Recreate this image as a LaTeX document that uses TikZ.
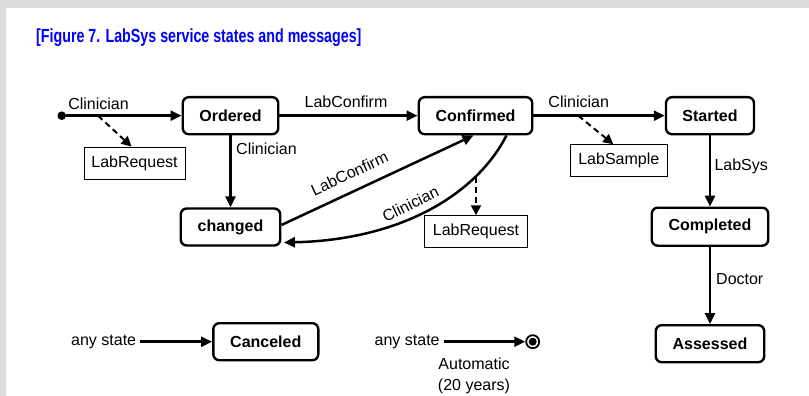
\documentclass[tikz,border=0pt]{standalone}
\usepackage{fontspec}
\setmainfont{Liberation Sans}
\usetikzlibrary{arrows.meta}
\definecolor{bggray}{HTML}{DCDCDC}
\definecolor{titleblue}{HTML}{0000FF}
\begin{document}
\begin{tikzpicture}[x=1pt,y=-1pt,
  state/.style={draw, line width=2.4pt, rounded corners=6pt, font=\fontsize{16}{19}\selectfont\bfseries, inner sep=0pt, minimum height=37pt},
  msg/.style={draw, line width=0.9pt, font=\fontsize{16}{19}\selectfont, inner sep=0pt, minimum height=32pt},
  lbl/.style={font=\fontsize{16}{19}\selectfont, inner sep=0pt},
  tr/.style={line width=2.5pt, -{Triangle[length=11pt,width=10pt]}},
  dsh/.style={line width=2pt, dash pattern=on 6pt off 4pt, -{Triangle[length=10pt,width=10pt]}}
]
\useasboundingbox (0,0) rectangle (809,396);
\fill[bggray] (0,0) rectangle (809,396);
\fill[white] (5.5,8.5) rectangle (809,396);

\node[anchor=base west, text=titleblue, font=\fontsize{19}{22}\selectfont\bfseries, inner sep=0pt] (title) at (36,42.5)
  {\scalebox{0.75}[1]{[Figure 7. LabSys service states and messages]}};

% states
\node[state, minimum width=95.5pt] (ordered) at (230.5,115.7) {Ordered};
\node[state, minimum width=113.5pt] (confirmed) at (475.5,115.7) {Confirmed};
\node[state, minimum width=88pt] (started) at (710,115.7) {Started};
\node[state, minimum width=116.5pt, minimum height=38pt] (completed) at (710,226.7) {Completed};
\node[state, minimum width=99.5pt] (changed) at (230.5,227) {changed};
\node[state, minimum width=108.5pt] (assessed) at (710,343.7) {Assessed};
\node[state, minimum width=105pt] (canceled) at (265.8,341.7) {Canceled};

% message boxes
\node[msg, minimum width=101pt] (req1) at (134.5,163) {LabRequest};
\node[msg, minimum width=96.5pt] (sample) at (618.8,160.7) {LabSample};
\node[msg, minimum width=102.5pt] (req2) at (476,231.7) {LabRequest};

% initial state
\node[circle, fill, inner sep=0pt, minimum size=8.6pt] (init) at (61.7,115.7) {};
\draw[tr] (init) -- (ordered);
\node[lbl] (lclin1) at (98.5,103.5) {Clinician};
\coordinate (d1) at (98,115.7);
\draw[dsh] (d1) -- ([xshift=-3pt]req1.north);

% Ordered -> Confirmed
\draw[tr] (ordered) -- (confirmed);
\node[lbl] (llc1) at (346,102) {LabConfirm};

% Confirmed -> Started
\draw[tr] (confirmed) -- (started);
\node[lbl] (lclin2) at (578.7,102) {Clinician};
\coordinate (d2) at (578.3,115.7);
\draw[dsh] (d2) -- ([xshift=-5.5pt]sample.north);

% Ordered -> changed
\draw[tr] (ordered) -- (changed);
\node[lbl, anchor=west] (lclin3) at (236,149) {Clinician};

% changed -> Confirmed
\draw[tr] ([shift={(0,-2)}]changed.east) -- ([xshift=-2pt]confirmed.south);
\node[lbl, rotate=25] (llc2) at (349.5,173.5) {LabConfirm};

% Confirmed -> changed (curve)
\draw[tr] ([xshift=31pt]confirmed.south) .. controls (476,195) and (400,240) .. ([shift={(2.5,15.5)}]changed.east);
\node[lbl, rotate=26] (lclin4) at (410.5,204) {Clinician};
\coordinate (d3) at (476,177);
\draw[dsh] (d3) -- (req2.north);

% Started -> Completed -> Assessed
\draw[tr] (started) -- (completed);
\node[lbl, anchor=west] (lsys) at (714.3,166) {LabSys};
\draw[tr] (completed) -- (assessed);
\node[lbl, anchor=west] (ldoc) at (716,279.3) {Doctor};

% any state -> Canceled
\node[lbl, anchor=west] (any1) at (71,341.7) {any state};
\draw[tr] ([xshift=4pt]any1.east) -- (canceled);

% any state -> final
\node[lbl, anchor=west] (any2) at (374.5,341.7) {any state};
\node[circle, draw, line width=1.8pt, inner sep=0pt, minimum size=13pt] (final) at (532.7,341.7) {};
\fill (final.center) circle (4);
\draw[tr] ([xshift=4pt]any2.east) -- (final);
\node[lbl, align=center] (lauto) at (474,376.3) {Automatic\\[2pt](20 years)};
\end{tikzpicture}
\end{document}
